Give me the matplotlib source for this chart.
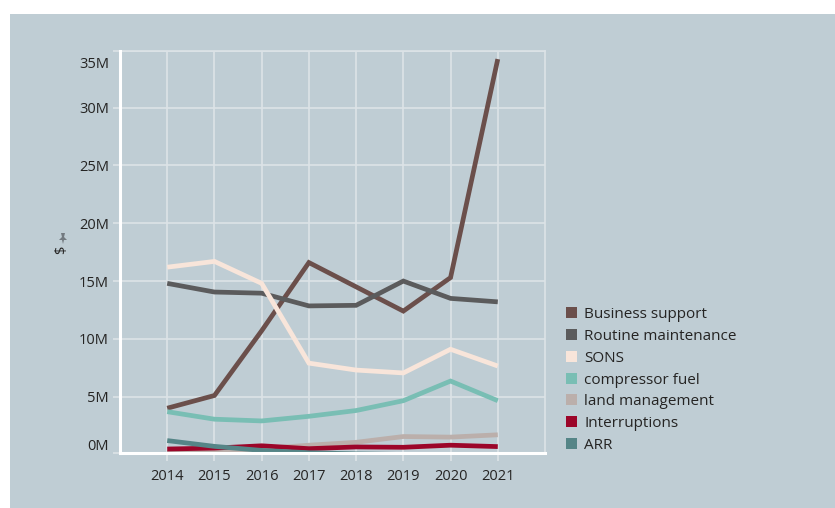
import matplotlib
matplotlib.use("Agg")
import matplotlib.pyplot as plt
import matplotlib.transforms as mtransforms
from matplotlib.patches import Rectangle, Polygon

# ---- data (values in $M) ----
years = [2014, 2015, 2016, 2017, 2018, 2019, 2020, 2021]
series_names = ["Business support", "Routine maintenance", "SONS", "compressor fuel",
                "land management", "Interruptions", "ARR"]
business_support = [4.0, 5.1, 10.7, 16.6, 14.5, 12.4, 15.3, 34.2]
routine_maintenance = [14.8, 14.05, 13.95, 12.85, 12.9, 15.0, 13.5, 13.2]
sons = [16.2, 16.7, 14.8, 7.9, 7.3, 7.05, 9.1, 7.65]
compressor_fuel = [3.7, 3.05, 2.9, 3.3, 3.8, 4.65, 6.35, 4.65]
land_management = [0.15, 0.25, 0.5, 0.8, 1.05, 1.55, 1.5, 1.7]
interruptions = [0.47, 0.55, 0.75, 0.5, 0.65, 0.62, 0.8, 0.68]
arr = [1.2, 0.7, 0.35, 0.15, 0.05, 0.0, 0.0, 0.0]
y_tick_values = [0, 5, 10, 15, 20, 25, 30, 35]
y_tick_labels = ["0M", "5M", "10M", "15M", "20M", "25M", "30M", "35M"]

series_values = [business_support, routine_maintenance, sons, compressor_fuel,
                 land_management, interruptions, arr]
colors = ["#6B4F4B", "#5B5B5C", "#F8E5DA", "#79BEB4", "#BBAFAB", "#9C0529", "#558587"]

W, H, DPI = 835, 508, 100
BG = "#BFCDD4"
GRID = "#DCE3E7"
TXT = "#252423"
FONT = ["Open Sans", "DejaVu Sans"]
plt.rcParams["font.family"] = FONT

fig = plt.figure(figsize=(W / DPI, H / DPI), dpi=DPI, facecolor="white")
# panel background (white margin at top and left)
fig.add_artist(Rectangle((10 / W, 0), 1 - 10 / W, (H - 14) / H,
                         transform=fig.transFigure, facecolor=BG, edgecolor="none", zorder=0))

ax_l, ax_r, ax_t, ax_b = 120, 545, 51, 453.3
ax = fig.add_axes([ax_l / W, (H - ax_b) / H, (ax_r - ax_l) / W, (ax_b - ax_t) / H])
ax.set_facecolor("none")

y_lo, y_hi = 0.10, 34.9
ax.set_xlim(2013, 2022)
ax.set_ylim(y_lo, y_hi)

for vals, col, name in zip(series_values, colors, series_names):
    ax.plot(years, vals, color=col, lw=3.4, solid_capstyle="butt",
            solid_joinstyle="miter", label=name, zorder=3, clip_on=True)

# y ticks: the extreme labels are kept inside the plotting range
ypos = [min(max(v, y_lo), y_hi) for v in y_tick_values]
ax.set_yticks(ypos)
ax.set_yticklabels(y_tick_labels)
ax.yaxis.grid(True, color=GRID, lw=1.2, zorder=1)
ax.tick_params(axis="y", length=5, width=1.2, color=GRID, pad=3,
               labelsize=10.5, labelcolor=TXT)
labels = ax.get_yticklabels()
labels[0].set_transform(labels[0].get_transform() +
                        mtransforms.ScaledTranslation(0, 9 / DPI, fig.dpi_scale_trans))
labels[-1].set_transform(labels[-1].get_transform() +
                         mtransforms.ScaledTranslation(0, -12 / DPI, fig.dpi_scale_trans))

# x ticks at the years, with grid lines
ax.set_xticks(years)
ax.set_xticklabels([str(y) for y in years])
ax.xaxis.grid(True, color=GRID, lw=1.2, zorder=1)
ax.tick_params(axis="x", length=6, width=1.2, color=GRID, pad=5,
               labelsize=10.5, labelcolor=TXT)

for side in ["top", "right"]:
    ax.spines[side].set_color(GRID)
    ax.spines[side].set_linewidth(1.2)
for side in ["left", "bottom"]:
    ax.spines[side].set_color("white")
    ax.spines[side].set_linewidth(2.2)
    ax.spines[side].set_zorder(4)

# axis title "$" with pin icon
fig.text(62 / W, (H - 250) / H, "$", rotation=90, ha="center", va="center",
         fontsize=10.5, color=TXT)
px, py = 63, 237
pin = [(px - 4, py + 3), (px - 1, py), (px - 2, py - 4), (px + 2, py - 4),
       (px + 1, py), (px + 4, py + 3), (px + 1, py + 3), (px, py + 7),
       (px - 1, py + 3)]
fig.add_artist(Polygon([(x / W, (H - y) / H) for x, y in pin], closed=True,
                       transform=fig.transFigure, facecolor="#737A80",
                       edgecolor="none", zorder=5))

# legend
lx, ly0, dy, sq = 566, 312.7, 21.8, 11
for i, (name, col) in enumerate(zip(series_names, colors)):
    cy = ly0 + i * dy
    fig.add_artist(Rectangle((lx / W, (H - cy - sq / 2) / H), sq / W, sq / H,
                             transform=fig.transFigure, facecolor=col,
                             edgecolor="none", zorder=5))
    fig.text((lx + 18) / W, (H - cy) / H, name, ha="left", va="center_baseline",
             fontsize=11, color=TXT)

fig.savefig("out.png", dpi=DPI, facecolor="white")
